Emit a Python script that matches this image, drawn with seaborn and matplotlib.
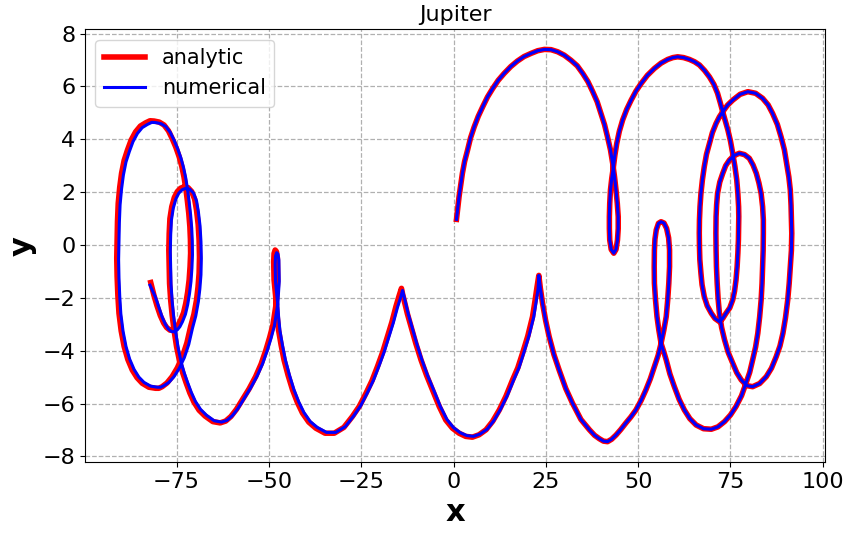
import matplotlib
matplotlib.use("Agg")
import matplotlib.pyplot as plt
import seaborn as sns

# -----------------------------
# Trajectory, piece by piece
# -----------------------------
# start -> first big arc -> small loop near x=43
seg_a_x = [0.8, 1.5, 2.4, 3.0, 3.8, 4.6, 5.6, 6.7, 7.9, 9.2,
           10.6, 12.1, 13.7, 15.5, 17.3, 19.1, 21.0, 22.8, 24.6, 26.4,
           28.2, 30.0, 31.8, 33.5, 35.0, 36.4, 37.7, 38.9, 39.9, 40.9,
           41.7, 42.5, 43.1, 43.6, 44.0, 44.35, 44.6, 44.6, 44.4, 44.0,
           43.4, 42.7, 42.3, 42.2, 42.2, 42.3, 42.5, 42.85, 43.3, 43.7, 44.2]
seg_a_y = [0.97, 1.83, 2.71, 3.16, 3.59, 4.05, 4.47, 4.87, 5.23, 5.60,
           5.92, 6.23, 6.49, 6.75, 6.96, 7.13, 7.25, 7.35, 7.40, 7.39,
           7.31, 7.18, 6.99, 6.78, 6.49, 6.18, 5.80, 5.42, 4.98, 4.55,
           4.09, 3.60, 3.09, 2.58, 2.08, 1.57, 1.07, 0.62, 0.19, -0.17,
           -0.31, -0.17, 0.19, 0.62, 1.07, 1.57, 2.08, 2.52, 2.96, 3.40, 3.84]

# second big arc -> V near x=72
seg_b_x = [44.9, 45.8, 46.9, 48.1, 49.4, 50.8, 52.5, 54.4, 56.2, 58.0,
           59.4, 60.7, 62.3, 63.9, 65.3, 66.6, 68.0, 69.3, 70.5, 71.5,
           72.2, 72.9, 73.6, 74.3, 75.0, 75.6, 76.2, 76.7, 77.0, 77.2,
           77.25, 77.2, 77.15, 77.0, 76.8, 76.5, 76.1, 75.6, 74.8, 73.8,
           72.9, 72.0, 70.8, 69.8, 68.7, 67.9, 67.3, 67.0, 66.7, 66.6]
seg_b_y = [4.30, 4.73, 5.13, 5.48, 5.82, 6.11, 6.42, 6.68, 6.88, 7.02,
           7.09, 7.12, 7.09, 7.02, 6.93, 6.81, 6.60, 6.36, 6.08, 5.74,
           5.40, 5.04, 4.70, 4.35, 3.93, 3.47, 2.97, 2.46, 1.95, 1.45,
           1.07, 0.69, 0.20, -0.31, -0.82, -1.32, -1.75, -2.08, -2.38, -2.58,
           -2.78, -2.90, -2.78, -2.58, -2.30, -1.95, -1.50, -1.07, -0.55, -0.06]

# outer ellipse on the right
seg_c_x = [66.55, 66.6, 66.75, 67.0, 67.4, 67.9, 68.5, 69.3, 70.1, 71.1,
           72.0, 72.9, 74.2, 75.6, 77.6, 79.7, 81.8, 83.7, 85.2, 86.4,
           87.7, 88.7, 89.6, 90.2, 90.8, 91.2, 91.4, 91.5, 91.6, 91.5,
           91.2, 90.9, 90.5, 89.9, 89.2, 88.4, 87.4, 86.1, 84.7, 82.9,
           81.0, 79.4, 77.9, 76.7, 75.6, 74.4, 73.4, 72.6, 72.0, 71.65,
           71.4, 71.2, 71.1]
seg_c_y = [0.45, 0.95, 1.45, 1.95, 2.47, 2.96, 3.43, 3.84, 4.25, 4.60,
           4.85, 5.04, 5.29, 5.48, 5.70, 5.80, 5.74, 5.55, 5.30, 4.98,
           4.56, 4.09, 3.60, 3.09, 2.58, 2.08, 1.50, 0.95, 0.44, -0.20,
           -0.82, -1.45, -2.08, -2.75, -3.34, -3.82, -4.22, -4.66, -4.98, -5.24,
           -5.36, -5.32, -5.10, -4.83, -4.47, -4.07, -3.59, -3.12, -2.58, -2.03,
           -1.45, -0.82, -0.19]

# inner ellipse on the right -> lowest arc
seg_d_x = [71.05, 71.1, 71.25, 71.5, 72.1, 72.9, 73.7, 74.7, 75.9, 77.4,
           78.8, 80.1, 81.1, 82.0, 82.7, 83.3, 83.7, 83.9, 83.9, 83.85,
           83.7, 83.55, 83.3, 82.9, 82.4, 81.8, 81.0, 80.2, 79.2, 78.0,
           76.5, 75.0, 73.4, 71.6, 69.8, 67.7, 65.7, 64.0, 62.5, 61.1,
           59.8, 58.6, 57.6, 56.8, 56.2]
seg_d_y = [0.45, 1.07, 1.52, 1.95, 2.38, 2.71, 3.00, 3.21, 3.38, 3.47,
           3.42, 3.28, 3.03, 2.71, 2.35, 1.95, 1.45, 0.95, 0.44, -0.20,
           -0.82, -1.45, -2.08, -2.72, -3.34, -3.86, -4.35, -4.82, -5.23, -5.70,
           -6.11, -6.43, -6.68, -6.88, -6.97, -6.95, -6.81, -6.57, -6.24, -5.84,
           -5.36, -4.88, -4.35, -3.98, -3.72]

# narrow loop near x=56 -> cusp near x=23
seg_e_x = [55.6, 55.1, 54.7, 54.4, 54.35, 54.4, 54.55, 54.9, 55.5, 56.2,
           57.0, 57.7, 58.25, 58.5, 58.5, 58.3, 58.0, 57.6, 56.95, 56.2,
           55.4, 54.4, 53.3, 52.1, 50.8, 49.4, 48.0, 46.7, 45.3, 44.0,
           42.8, 41.7, 40.6, 39.5, 38.2, 36.8, 34.5, 32.2, 30.4, 28.6,
           27.2, 25.9, 24.95, 24.1, 23.5, 23.1]
seg_e_y = [-3.22, -2.71, -2.08, -1.45, -0.82, -0.19, 0.22, 0.57, 0.82, 0.88,
           0.83, 0.63, 0.27, -0.19, -0.82, -1.45, -2.08, -2.71, -3.22, -3.72,
           -4.18, -4.60, -5.06, -5.48, -5.88, -6.24, -6.51, -6.73, -6.98, -7.19,
           -7.35, -7.44, -7.42, -7.33, -7.20, -6.99, -6.60, -5.98, -5.43, -4.73,
           -4.15, -3.47, -2.86, -2.20, -1.62, -1.15]

# cusp near x=23 -> cusp near x=-14
seg_f_x = [22.6, 22.1, 21.4, 20.1, 18.7, 17.4, 16.0, 14.2, 12.4, 10.6,
           8.8, 6.9, 5.1, 3.3, 1.5, -0.3, -2.1, -3.9, -5.7, -7.3,
           -8.8, -10.2, -11.5, -12.5, -13.4, -13.8, -14.1]
seg_f_y = [-1.60, -2.08, -2.71, -3.45, -4.09, -4.65, -5.10, -5.72, -6.24, -6.67,
           -6.99, -7.18, -7.27, -7.24, -7.12, -6.93, -6.62, -6.10, -5.48, -4.93,
           -4.35, -3.73, -3.09, -2.60, -2.08, -1.85, -1.64]

# cusp near x=-14 -> loop near x=-48 -> top of small loop near x=-73
seg_g_x = [-14.8, -15.6, -16.7, -17.9, -19.2, -20.6, -22.1, -23.7, -25.5, -27.4,
           -29.7, -32.3, -34.8, -37.3, -39.2, -40.9, -42.3, -43.6, -44.8, -45.9,
           -46.7, -47.4, -47.75, -48.0, -48.6, -48.7, -48.6, -48.3, -47.95, -47.7,
           -47.6, -48.0, -48.9, -49.8, -50.8, -52.1, -53.6, -55.4, -57.2, -58.8,
           -60.3, -61.7, -63.2, -65.2, -67.3, -68.9, -70.3, -71.4, -72.4, -73.3,
           -74.1, -75.0, -75.7, -76.2, -76.6, -76.9, -77.0, -77.1, -77.0, -76.8,
           -76.3, -75.6, -74.8, -73.9, -73.0]
seg_g_y = [-1.95, -2.33, -2.92, -3.47, -4.06, -4.60, -5.14, -5.61, -6.10, -6.49,
           -6.90, -7.12, -7.12, -6.93, -6.70, -6.36, -5.95, -5.48, -4.93, -4.35,
           -3.78, -3.21, -2.70, -2.19, -1.32, -0.64, -0.32, -0.19, -0.25, -0.49,
           -1.32, -2.19, -3.02, -3.50, -3.97, -4.50, -4.98, -5.45, -5.86, -6.22,
           -6.49, -6.66, -6.73, -6.68, -6.47, -6.25, -5.94, -5.60, -5.22, -4.85,
           -4.46, -3.85, -3.21, -2.65, -2.08, -1.45, -0.82, -0.20, 0.44, 1.00,
           1.45, 1.80, 2.02, 2.15, 2.20]

# left ellipses -> end point
seg_h_x = [-71.9, -70.9, -70.1, -69.6, -69.15, -68.9, -68.8, -68.9, -69.2, -69.6,
           -70.3, -71.2, -72.2, -73.4, -74.8, -76.2, -77.6, -78.9, -79.8, -80.7,
           -82.5, -84.3, -85.7, -87.0, -88.2, -89.2, -90.0, -90.6, -90.9, -91.1,
           -91.2, -91.1, -91.0, -90.8, -90.4, -89.9, -89.2, -88.3, -87.3, -86.1,
           -84.8, -83.4, -82.2, -81.1, -79.7, -78.4, -77.2, -76.2, -75.2, -74.3,
           -73.6, -73.0, -72.5, -72.1, -71.7, -71.4, -71.25, -71.2, -71.35, -71.6,
           -72.0, -72.5, -73.1, -73.9, -74.6, -75.3, -76.0, -76.8, -77.7, -78.5,
           -79.4, -80.3, -81.1, -82.0]
seg_h_y = [2.17, 2.02, 1.73, 1.32, 0.78, 0.19, -0.45, -1.07, -1.60, -2.08,
           -2.62, -3.09, -3.70, -4.22, -4.65, -4.98, -5.22, -5.36, -5.42, -5.42,
           -5.38, -5.23, -5.02, -4.73, -4.33, -3.84, -3.25, -2.58, -1.90, -1.20,
           -0.50, 0.19, 0.90, 1.58, 2.18, 2.71, 3.20, 3.59, 3.97, 4.28,
           4.50, 4.62, 4.70, 4.69, 4.65, 4.54, 4.32, 4.03, 3.70, 3.34,
           2.98, 2.58, 2.14, 1.70, 1.20, 0.69, 0.20, -0.31, -0.82, -1.32,
           -1.78, -2.20, -2.56, -2.84, -3.03, -3.15, -3.22, -3.22, -3.12, -2.95,
           -2.67, -2.30, -1.92, -1.42]

# numerical run drifts a little to the right on the way back
num_f_x = [22.9, 22.4, 21.7, 20.4, 19.0, 17.7, 16.3, 14.5, 12.7, 10.9,
           9.1, 7.2, 5.4, 3.6, 1.8, 0.0, -1.8, -3.6, -5.4, -7.0,
           -8.5, -9.9, -11.2, -12.2, -13.1, -13.5, -13.8]
num_f_y = [-1.66, -2.12, -2.73, -3.45, -4.09, -4.65, -5.10, -5.71, -6.22, -6.65,
           -6.97, -7.15, -7.24, -7.21, -7.10, -6.91, -6.60, -6.10, -5.48, -4.95,
           -4.37, -3.76, -3.12, -2.64, -2.13, -1.92, -1.72]

num_g_x = [-14.4, -15.2, -16.3, -17.5, -18.8, -20.2, -21.7, -23.3, -25.1, -27.0,
           -29.3, -31.9, -34.4, -36.9, -38.8, -40.5, -41.9, -43.2, -44.4, -45.5,
           -46.3, -47.0, -47.35, -47.6, -48.2, -48.3, -48.2, -47.9, -47.55, -47.3,
           -47.2, -47.6, -48.5, -49.4, -50.4, -51.7, -53.2, -55.0, -56.8, -58.4,
           -59.9, -61.3, -62.8, -64.8, -66.9, -68.5, -69.9, -71.0, -72.0, -72.9,
           -73.7, -74.6, -75.3, -75.8, -76.2, -76.5, -76.6, -76.7, -76.6, -76.4,
           -75.9, -75.2, -74.4, -73.5, -72.6]
num_g_y = [-2.02, -2.37, -2.94, -3.47, -4.05, -4.58, -5.12, -5.58, -6.07, -6.46,
           -6.87, -7.09, -7.09, -6.90, -6.68, -6.34, -5.94, -5.48, -4.94, -4.37,
           -3.81, -3.25, -2.76, -2.26, -1.40, -0.74, -0.42, -0.29, -0.34, -0.57,
           -1.38, -2.24, -3.05, -3.52, -3.97, -4.49, -4.96, -5.42, -5.83, -6.19,
           -6.46, -6.63, -6.70, -6.65, -6.44, -6.22, -5.92, -5.58, -5.21, -4.85,
           -4.47, -3.87, -3.24, -2.69, -2.12, -1.50, -0.88, -0.26, 0.38, 0.94,
           1.39, 1.74, 1.96, 2.09, 2.14]

num_h_x = [-71.4, -70.4, -69.6, -69.1, -68.65, -68.4, -68.3, -68.4, -68.7, -69.1,
           -69.8, -70.7, -71.7, -72.9, -74.3, -75.7, -77.1, -78.4, -79.3, -80.2,
           -82.0, -83.8, -85.2, -86.5, -87.7, -88.7, -89.5, -90.1, -90.4, -90.6,
           -90.7, -90.6, -90.5, -90.3, -89.9, -89.4, -88.7, -87.8, -86.8, -85.6,
           -84.3, -82.9, -81.7, -80.6, -79.2, -77.9, -76.7, -75.7, -74.7, -73.8,
           -73.1, -72.5, -72.0, -71.6, -71.2, -70.9, -70.75, -70.7, -70.85, -71.1,
           -71.5, -72.0, -72.6, -73.4, -74.1, -74.8, -75.5, -76.3, -77.2, -78.0,
           -78.9, -79.8, -80.7, -82.2]
num_h_y = [2.11, 1.96, 1.67, 1.26, 0.72, 0.13, -0.51, -1.13, -1.66, -2.14,
           -2.68, -3.15, -3.76, -4.26, -4.67, -4.98, -5.20, -5.32, -5.38, -5.38,
           -5.34, -5.20, -5.00, -4.71, -4.32, -3.84, -3.26, -2.60, -1.93, -1.24,
           -0.55, 0.14, 0.84, 1.52, 2.12, 2.65, 3.14, 3.53, 3.91, 4.22,
           4.44, 4.56, 4.64, 4.63, 4.59, 4.48, 4.26, 3.97, 3.64, 3.28,
           2.92, 2.52, 2.08, 1.64, 1.14, 0.63, 0.14, -0.37, -0.88, -1.38,
           -1.84, -2.26, -2.62, -2.90, -3.09, -3.21, -3.28, -3.28, -3.18, -3.01,
           -2.73, -2.36, -1.98, -1.52]

analytic_x = seg_a_x + seg_b_x + seg_c_x + seg_d_x + seg_e_x + seg_f_x + seg_g_x + seg_h_x
analytic_y = seg_a_y + seg_b_y + seg_c_y + seg_d_y + seg_e_y + seg_f_y + seg_g_y + seg_h_y
numerical_x = seg_a_x + seg_b_x + seg_c_x + seg_d_x + seg_e_x + num_f_x + num_g_x + num_h_x
numerical_y = seg_a_y + seg_b_y + seg_c_y + seg_d_y + seg_e_y + num_f_y + num_g_y + num_h_y

# -----------------------------
# Plot
# -----------------------------
fig, ax = plt.subplots(figsize=(8.5, 5.33), dpi=100)
fig.subplots_adjust(left=0.1, right=0.9706, top=0.945, bottom=0.1327)

sns.lineplot(x=analytic_x, y=analytic_y, sort=False, estimator=None,
             color="red", linewidth=4, label="analytic", ax=ax)
sns.lineplot(x=numerical_x, y=numerical_y, sort=False, estimator=None,
             color="blue", linewidth=2.2, label="numerical", ax=ax)

ax.set_xlim(-99.8, 100.6)
ax.set_ylim(-8.22, 8.16)
ax.grid(True, linestyle="--", color="#b0b0b0", linewidth=0.9)
ax.tick_params(labelsize=16)
ax.set_title("Jupiter", fontsize=16)
ax.set_xlabel("x", fontsize=22, fontweight="bold")
ax.set_ylabel("y", fontsize=22, fontweight="bold")
ax.legend(loc="upper left", fontsize=15)

plt.savefig("out.png", dpi=100)
